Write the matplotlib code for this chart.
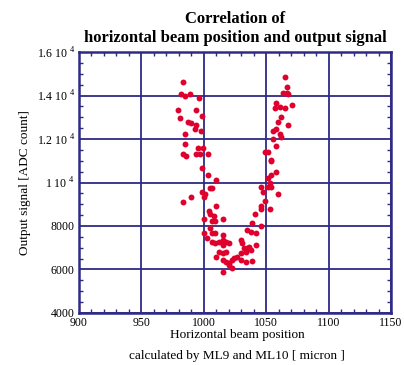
import numpy as np
import matplotlib.pyplot as plt
from matplotlib.ticker import MultipleLocator, FixedLocator, FixedFormatter

plt.rcParams['font.family'] = ['Liberation Serif', 'DejaVu Serif']
plt.rcParams['mathtext.fontset'] = 'custom'
plt.rcParams['mathtext.rm'] = 'Liberation Serif'

# 読み取ったデータ (ビーム位置 [micron], 出力信号 [ADC count])
pos_x = [983.3, 982, 985, 989, 996, 979, 994, 980.6, 987, 990, 994, 993, 998.6, 998,
         984.6, 984.6, 995.7, 999.7, 983, 986, 994, 997, 1003, 998.6, 1003, 1009.6,
         1005, 1006.6, 998.6, 1001, 1000, 990, 983, 1009.6, 1004, 1005, 1008, 1015,
         1000, 1006.6, 1009, 1005, 1000, 1006.6, 1009, 1002.6, 1015, 1006.6, 1009,
         1012, 1015, 1017.6, 1020, 1015, 1012, 1015, 1009.6, 1017.6, 1015, 1017.6,
         1020, 1023, 1024.6, 1027, 1030, 1015, 1023, 1020, 1030, 1030, 1031, 1032.6,
         1035, 1034, 1036.6, 1038, 1042, 1039, 1034, 1035, 1038, 1042, 1039, 1040.7,
         1046, 1046, 1046, 1052.7, 1048.7, 1047.3, 1046, 1051.4, 1054, 1051.4, 1054,
         1059.4, 1058, 1052.7, 1054, 1054, 1048.7, 1051.4, 1058, 1055.4, 1062, 1060.7,
         1055.4, 1058, 1067.7, 1059.4, 1062, 1056.7, 1060.7, 1064.8, 1058, 1070.7,
         1063.4, 1066.4, 1067.7, 1066.4, 1065]
signal = [14612, 14060, 13982, 14060, 13904, 13338, 13338, 12956, 12800, 12726, 12648,
          12464, 13040, 12386, 12234, 11774, 11604, 11604, 11298, 11222, 11298, 11298,
          11298, 10670, 10348, 10118, 9736, 9736, 9566, 9488, 9336, 9336, 9092, 8938,
          8708, 8554, 8478, 8310, 8310, 8232, 8232, 7924, 7680, 7680, 7680, 7450, 7604,
          7280, 7206, 7280, 7358, 7280, 7206, 7128, 6822, 6744, 6590, 6822, 6438, 6360,
          6284, 6438, 6514, 6590, 6438, 5900, 6054, 6208, 6744, 7358, 7206, 6976, 6976,
          6822, 7052, 6898, 7128, 6392, 6360, 7818, 7740, 7664, 8126, 8554, 8002, 8784,
          8938, 8784, 9166, 9566, 9796, 9796, 9796, 10196, 10348, 9488, 10502, 9966,
          11056, 10980, 11390, 11390, 11682, 12004, 12082, 12234, 12386, 12464, 12632,
          12800, 13030, 13416, 13492, 13416, 13646, 13584, 14134, 14134, 14060, 14370,
          14846]

y_ticks = [4000, 6000, 8000, 10000, 12000, 14000, 16000]
y_labels = ['4000', '6000', '8000', r'1 10$^{\ 4}$', r'1.2 10$^{\ 4}$',
            r'1.4 10$^{\ 4}$', r'1.6 10$^{\ 4}$']

navy = '#2e2a85'

fig = plt.figure(figsize=(4.04, 3.65), dpi=100)
ax = fig.add_axes([0.1955, 0.1425, 0.7723, 0.715])

ax.scatter(pos_x, signal, s=18, color='#e0002d', zorder=3, linewidths=0)

ax.set_xlim(900, 1150)
ax.set_ylim(4000, 16000)
ax.xaxis.set_major_locator(MultipleLocator(50))
ax.xaxis.set_minor_locator(MultipleLocator(10))
ax.yaxis.set_major_locator(FixedLocator(y_ticks))
ax.yaxis.set_major_formatter(FixedFormatter(y_labels))
ax.yaxis.set_minor_locator(MultipleLocator(500))

ax.grid(True, which='major', color=navy, linewidth=1.3)
for s in ax.spines.values():
    s.set_color(navy)
    s.set_linewidth(1.8)
ax.tick_params(which='both', direction='in', top=True, right=True, color=navy,
               labelsize=8.5, pad=3)
ax.tick_params(which='major', length=0)
ax.tick_params(which='minor', length=3, width=1)

fig.text(0.5866, 1 - 335 / 365, 'Horizontal beam position', fontsize=9.5,
         ha='center', va='center')
fig.text(0.5866, 1 - 356 / 365, 'calculated by ML9 and ML10 [ micron ]', fontsize=9.5,
         ha='center', va='center')
ax.set_ylabel('Output signal [ADC count]', fontsize=9.5)
ax.set_title('Correlation of\nhorizontal beam position and output signal',
             fontsize=12, fontweight='bold', linespacing=1.3, pad=7)

fig.savefig('out.png', dpi=100)
